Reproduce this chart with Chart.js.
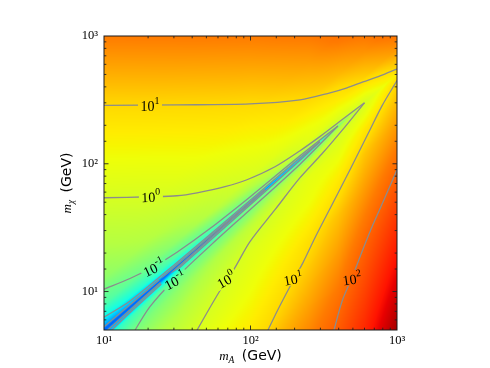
<!DOCTYPE html>
<html>
<head>
<meta charset="utf-8">
<script src="https://cdn.jsdelivr.net/npm/chart.js@4.4.1/dist/chart.umd.min.js"></script>
<style>
html, body { margin: 0; padding: 0; background: #fff; }
</style>
</head>
<body>
<canvas id="chart" width="490" height="368"></canvas>
<script>
// axis ticks
const xTickValues = [10, 100, 1000];
const xTickLabels = ['10¹', '10²', '10³'];
const yTickValues = [10, 100, 1000];
const yTickLabels = ['10¹', '10²', '10³'];

// background field, log10 of the plotted quantity
// rows: m_A nodes, columns: offset from the resonance, log10(2 m_chi / m_A)
const gridMA = [10, 31.6, 100, 251, 398, 603, 1000];
const gridOffset = [-2.0, -1.5, -1.1, -0.7, -0.4, -0.2, -0.08, -0.025, 0, 0.025, 0.08, 0.2, 0.4, 0.7, 1.1, 1.6, 2.3];
const gridLogValue = [
  [2.6, 1.7, 0.8, 0.0, -0.68, -1.25, -1.85, -3.0, -3.8, -3.0, -2.2, -1.45, -0.85, -0.47, 0.1, 0.79, 1.75],
  [2.6, 1.65, 0.8, 0.02, -0.49, -0.82, -1.17, -2.1, -3.5, -2.13, -1.4, -0.78, -0.3, 0.23, 0.78, 1.48, 2.44],
  [2.3, 1.5, 0.86, 0.43, 0.15, -0.3, -0.9, -1.12, -3.2, -1.15, -0.74, 0.03, 0.38, 0.89, 1.47, 2.17, 3.14],
  [2.4, 1.75, 1.33, 0.9, 0.42, 0.25, -0.35, -1.3, -2.3, -0.7, 0.2, 0.45, 0.99, 1.48, 2.06, 2.7, 3.6],
  [2.5, 2.01, 1.59, 1.18, 0.71, 0.27, 0.01, -0.5, -1.0, -0.1, 0.23, 0.72, 1.26, 1.85, 2.4, 3.1, 4.0],
  [2.9, 2.4, 2.0, 1.52, 1.16, 0.76, 0.3, 0.1, 0.0, 0.15, 0.48, 1.08, 1.57, 2.1, 2.6, 3.3, 4.2],
  [3.7, 3.0, 2.48, 1.93, 1.5, 1.21, 1.04, 0.88, 0.7, 0.9, 1.14, 1.56, 2.05, 2.5, 3.0, 3.7, 4.5]
];
// colour scale: log10 value -> position on the jet map
const colourLog = [-4, -3, -2, -1, -0.5, 0, 1, 1.75, 3, 3.8];
const colourPos = [0.2, 0.27, 0.37, 0.5, 0.57, 0.61, 0.68, 0.78, 0.9, 0.98];

// contour lines [m_A, m_chi]
const contourP1Upper = [[10, 286], [31.5, 289], [99, 294], [218, 316], [349, 359], [456, 393], [586, 437], [766, 487], [1000, 552]];
const contourP1Lower = [[131.7, 5], [154.1, 7.23], [186.1, 10.94], [228.2, 16.85], [275.6, 26.4], [360, 47.8], [477.7, 89.8], [634, 171.6], [790, 283.9], [1000, 447.6]];
const contourP2 = [[371.5, 5], [421.3, 8.36], [493, 12.87], [576.8, 20.5], [685.6, 33.4], [815.1, 52.3], [1000, 89.8]];
const contour0Upper = [[10, 54.2], [20.6, 55.2], [31.5, 56.2], [43.2, 59.3], [67, 66.1], [94.6, 75], [146.9, 94.8], [217.8, 126.5], [297.6, 163.1], [408, 214.8], [600, 300]];
const contour0Lower = [[43.2, 5], [52.9, 7.5], [63.8, 10.75], [78.3, 15.4], [99.2, 24.6], [147, 43.7], [217.8, 77.8], [307.6, 119.7], [441.6, 194.5], [600, 300]];
const contourM1Upper = [[10, 10.45], [15.05, 12.65], [21.6, 15.55], [31.5, 20.3], [52.9, 31.1], [99.2, 55], [217.8, 115.4], [395, 197.7]];
const contourM1Lower = [[16.3, 5], [20.6, 7.63], [30.5, 12.54], [52.9, 22.77], [99.2, 43.7], [217.8, 99.3], [395, 197.7]];
const contourM2Upper = [[10, 6.3], [15.05, 8.44], [31.5, 16.9], [99.2, 51.7], [217.8, 111.4], [297.6, 148.8]];
const contourM2Lower = [[11.3, 5], [15.05, 6.86], [31.5, 14.77], [99.2, 47.6], [217.8, 106.4], [297.6, 148.8]];
const contourM3Upper = [[10, 5.3], [20.6, 10.71], [45.2, 23.1], [125.6, 62.8]];
const contourM3Lower = [[10.6, 5], [20.6, 9.91], [45.2, 22.08], [125.6, 62.8]];

// contour labels
const contourLabelExp = ['1', '0', '-1', '-1', '0', '1', '2'];
const contourLabelMA = [20.6, 20.9, 21.9, 30.5, 68.1, 195, 493];
const contourLabelMChi = [287, 55.5, 15.4, 12.2, 12.4, 12.6, 12.6];
const contourLabelAngle = [0, 2, 25, 27, 30, 10, 8];

const serif = '"Liberation Serif", "DejaVu Serif", serif';
const labelFont = '14px ' + serif;
const supFont = '10px ' + serif;

// matplotlib jet
const jetRed = [[0, 0], [0.35, 0], [0.66, 1], [0.89, 1], [1, 0.5]];
const jetGreen = [[0, 0], [0.125, 0], [0.375, 1], [0.64, 1], [0.91, 0], [1, 0]];
const jetBlue = [[0, 0.5], [0.11, 1], [0.34, 1], [0.65, 0], [1, 0]];

function seg(s, t) {
  if (t <= s[0][0]) return s[0][1];
  for (let k = 1; k < s.length; k++) {
    if (t <= s[k][0]) {
      const [t0, v0] = s[k - 1], [t1, v1] = s[k];
      return v0 + (v1 - v0) * (t - t0) / (t1 - t0);
    }
  }
  return s[s.length - 1][1];
}
const colourScale = colourLog.map((v, k) => [v, colourPos[k]]);
function jet(v) {
  const t = seg(colourScale, v);
  return [seg(jetRed, t) * 255, seg(jetGreen, t) * 255, seg(jetBlue, t) * 255];
}

const gridU = gridMA.map(Math.log10);
function locate(nodes, v) {
  const n = nodes.length;
  if (v <= nodes[0]) return [0, 0];
  if (v >= nodes[n - 1]) return [n - 2, 1];
  let i = 0;
  while (v > nodes[i + 1]) i++;
  return [i, (v - nodes[i]) / (nodes[i + 1] - nodes[i])];
}
function fieldAt(mA, mchi) {
  const [i, fu] = locate(gridU, Math.log10(mA));
  const [j, fw] = locate(gridOffset, Math.log10(2 * mchi / mA));
  const r0 = gridLogValue[i], r1 = gridLogValue[i + 1];
  const a = r0[j] + (r0[j + 1] - r0[j]) * fw;
  const b = r1[j] + (r1[j + 1] - r1[j]) * fw;
  return a + (b - a) * fu;
}

function labelBoxes(chart) {
  const { ctx, scales: { x, y } } = chart;
  return contourLabelExp.map((exp, k) => {
    ctx.font = labelFont;
    const wb = ctx.measureText('10').width;
    ctx.font = supFont;
    const ws = ctx.measureText(exp).width;
    return {
      cx: x.getPixelForValue(contourLabelMA[k]),
      cy: y.getPixelForValue(contourLabelMChi[k]),
      ang: contourLabelAngle[k] * Math.PI / 180,
      wb, ws, exp
    };
  });
}

const fieldPlugin = {
  id: 'field',
  beforeDatasetsDraw(chart) {
    const { ctx, chartArea: a, scales: { x, y } } = chart;
    const w = Math.round(a.right - a.left), h = Math.round(a.bottom - a.top);
    if (!chart.$field) {
      const off = document.createElement('canvas');
      off.width = w; off.height = h;
      const octx = off.getContext('2d');
      const img = octx.createImageData(w, h);
      const xs = [], ys = [];
      for (let i = 0; i < w; i++) xs.push(x.getValueForPixel(a.left + i + 0.5));
      for (let j = 0; j < h; j++) ys.push(y.getValueForPixel(a.top + j + 0.5));
      for (let j = 0; j < h; j++) {
        for (let i = 0; i < w; i++) {
          const c = jet(fieldAt(xs[i], ys[j]));
          const k = (j * w + i) * 4;
          img.data[k] = c[0]; img.data[k + 1] = c[1]; img.data[k + 2] = c[2]; img.data[k + 3] = 255;
        }
      }
      octx.putImageData(img, 0, 0);
      chart.$field = off;
    }
    ctx.drawImage(chart.$field, a.left, a.top);

    // cut the contour lines where the labels sit
    ctx.save();
    ctx.beginPath();
    ctx.rect(a.left, a.top, a.right - a.left, a.bottom - a.top);
    labelBoxes(chart).forEach(b => {
      const hw = (b.wb + b.ws) / 2 + 2.5;
      const c = Math.cos(b.ang), s = Math.sin(b.ang);
      const pts = [[-hw, -8.5], [hw, -8.5], [hw, 6.5], [-hw, 6.5]]
        .map(([dx, dy]) => [b.cx + dx * c + dy * s, b.cy - dx * s + dy * c]);
      ctx.moveTo(pts[0][0], pts[0][1]);
      pts.slice(1).forEach(p => ctx.lineTo(p[0], p[1]));
      ctx.closePath();
    });
    ctx.clip('evenodd');
  },
  afterDatasetsDraw(chart) {
    const { ctx, chartArea: a, scales: { x, y } } = chart;
    ctx.restore();

    // contour labels
    labelBoxes(chart).forEach(b => {
      ctx.save();
      ctx.translate(b.cx, b.cy);
      ctx.rotate(-b.ang);
      const start = -(b.wb + b.ws) / 2;
      ctx.fillStyle = '#000';
      ctx.textAlign = 'left';
      ctx.textBaseline = 'alphabetic';
      ctx.font = labelFont;
      ctx.fillText('10', start, 5.5);
      ctx.font = supFont;
      ctx.fillText(b.exp, start + b.wb, -1.5);
      ctx.restore();
    });

    // inward ticks on all four sides
    ctx.save();
    ctx.strokeStyle = '#222';
    ctx.lineWidth = 0.9;
    ctx.beginPath();
    const isMajor = v => { const e = Math.log10(v); return Math.abs(e - Math.round(e)) < 1e-6; };
    x.ticks.forEach(t => {
      const p = x.getPixelForValue(t.value);
      if (p <= a.left + 1 || p >= a.right - 1) return;
      const len = isMajor(t.value) ? 4.5 : 2.3;
      ctx.moveTo(p, a.bottom); ctx.lineTo(p, a.bottom - len);
      ctx.moveTo(p, a.top); ctx.lineTo(p, a.top + len);
    });
    y.ticks.forEach(t => {
      const p = y.getPixelForValue(t.value);
      if (p <= a.top + 1 || p >= a.bottom - 1) return;
      const len = isMajor(t.value) ? 4.5 : 2.3;
      ctx.moveTo(a.left, p); ctx.lineTo(a.left + len, p);
      ctx.moveTo(a.right, p); ctx.lineTo(a.right - len, p);
    });
    ctx.stroke();
    ctx.strokeStyle = '#1a1a1a';
    ctx.lineWidth = 1;
    ctx.strokeRect(a.left, a.top, a.right - a.left, a.bottom - a.top);
    ctx.restore();
  },
  afterDraw(chart) {
    const { ctx, chartArea: a } = chart;
    const parts = (sub) => [
      { t: 'm', f: 'italic 13px ' + serif, dy: 0 },
      { t: sub, f: 'italic 9.5px ' + serif, dy: 3 },
      { t: ' ', f: '14px "DejaVu Sans"', dy: 0, gap: 3 },
      { t: '(GeV)', f: '14px "DejaVu Sans"', dy: 0 }
    ];
    const drawTitle = (list, cx, base, rotate) => {
      ctx.save();
      let total = 0;
      list.forEach(p => { ctx.font = p.f; p.w = ctx.measureText(p.t).width + (p.gap || 0); total += p.w; });
      ctx.fillStyle = '#000';
      ctx.textBaseline = 'alphabetic';
      ctx.textAlign = 'left';
      if (rotate) {
        ctx.translate(base, cx);
        ctx.rotate(-Math.PI / 2);
        let px = -total / 2;
        list.forEach(p => { ctx.font = p.f; ctx.fillText(p.t, px, p.dy); px += p.w; });
      } else {
        let px = cx - total / 2;
        list.forEach(p => { ctx.font = p.f; ctx.fillText(p.t, px, base + p.dy); px += p.w; });
      }
      ctx.restore();
    };
    drawTitle(parts('A'), (a.left + a.right) / 2, 359.5, false);
    drawTitle(parts('χ'), (a.top + a.bottom) / 2, 71, true);
  }
};

const lineStyle = {
  showLine: true,
  pointRadius: 0,
  borderColor: '#8c8c8c',
  borderWidth: 1.3,
  tension: 0.3,
  fill: false
};
const contours = [contourP1Upper, contourP1Lower, contourP2, contour0Upper, contour0Lower,
  contourM1Upper, contourM1Lower, contourM2Upper, contourM2Lower, contourM3Upper, contourM3Lower];

const tickText = (values, labels) => v => {
  const k = values.findIndex(t => Math.abs(Math.log10(t) - Math.log10(v)) < 1e-6);
  return k >= 0 ? labels[k] : '';
};

new Chart(document.getElementById('chart'), {
  type: 'scatter',
  data: {
    datasets: contours.map(c => Object.assign({ data: c.map(([mA, mchi]) => ({ x: mA, y: mchi })) }, lineStyle))
  },
  options: {
    responsive: false,
    animation: false,
    events: [],
    layout: { padding: { left: 0, right: 93, top: 36, bottom: 0 } },
    plugins: { legend: { display: false }, tooltip: { enabled: false } },
    scales: {
      x: {
        type: 'logarithmic',
        min: 10, max: 1000,
        grid: { display: false, drawTicks: false },
        border: { display: false },
        afterFit: s => { s.height = 38; },
        ticks: {
          autoSkip: false, maxRotation: 0, minRotation: 0, padding: 3,
          color: '#000', font: { family: 'Liberation Serif', size: 12.5 },
          callback: tickText(xTickValues, xTickLabels)
        }
      },
      y: {
        type: 'logarithmic',
        min: 5, max: 1000,
        grid: { display: false, drawTicks: false },
        border: { display: false },
        afterFit: s => { s.width = 104; },
        ticks: {
          autoSkip: false, padding: 6,
          color: '#000', font: { family: 'Liberation Serif', size: 12.5 },
          callback: tickText(yTickValues, yTickLabels)
        }
      }
    }
  },
  plugins: [fieldPlugin]
});
</script>
</body>
</html>
